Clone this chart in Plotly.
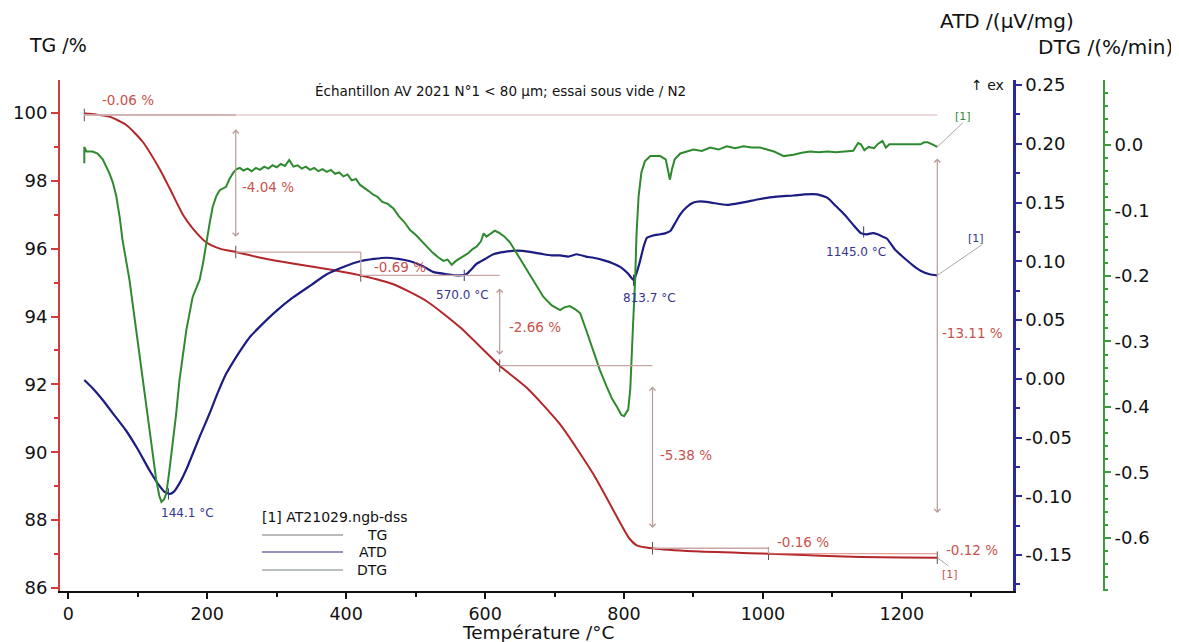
import plotly.graph_objects as go

# ---------------- data ----------------
tg_T = [23, 40, 59, 83, 107, 131, 146, 165, 179, 199, 218, 241, 275, 323, 372, 421, 468, 516, 564,
        621, 660, 708, 756, 795, 808, 819, 841, 900, 1008, 1093, 1141, 1200, 1251]
tg_v = [99.98, 99.95, 99.89, 99.65, 99.15, 98.36, 97.77, 97.0, 96.6, 96.18, 96.0, 95.90, 95.74, 95.56,
        95.40, 95.21, 94.95, 94.45, 93.68, 92.55, 91.9, 90.82, 89.35, 87.9, 87.45, 87.25, 87.17, 87.08,
        87.01, 86.94, 86.91, 86.90, 86.89]

atd_T = [23, 35, 49.5, 65, 83, 100, 117, 131, 138, 146, 152, 160, 170, 179, 190, 203, 215, 227, 240,
         251, 262, 275, 300, 323, 350, 372, 395, 420, 440, 458, 475, 492, 510, 525, 545, 564, 573, 580,
         588, 600, 612, 628, 646, 665, 684, 696, 708, 720, 732, 745, 756, 770, 785, 795, 805, 814, 818,
         823, 828, 833, 842, 852, 860, 867, 874, 881, 890, 900, 910, 925, 948, 970, 996, 1020, 1044,
         1060, 1078, 1093, 1105, 1117, 1130, 1141, 1150, 1158, 1165, 1172, 1179, 1190, 1203, 1215,
         1227, 1240, 1251]
atd_v = [-0.001, -0.008, -0.018, -0.030, -0.044, -0.060, -0.078, -0.091, -0.096, -0.098, -0.096,
         -0.089, -0.077, -0.064, -0.048, -0.030, -0.012, 0.004, 0.017, 0.027, 0.036, 0.044, 0.058,
         0.069, 0.080, 0.089, 0.095, 0.100, 0.102, 0.103, 0.102, 0.100, 0.096, 0.091, 0.089, 0.088,
         0.089, 0.093, 0.098, 0.102, 0.106, 0.108, 0.109, 0.108, 0.106, 0.105, 0.105, 0.104, 0.106,
         0.104, 0.103, 0.101, 0.098, 0.095, 0.090, 0.084, 0.090, 0.100, 0.112, 0.120, 0.122, 0.123,
         0.124, 0.126, 0.133, 0.140, 0.146, 0.150, 0.151, 0.150, 0.148, 0.150, 0.153, 0.155, 0.156,
         0.157, 0.157, 0.154, 0.147, 0.140, 0.131, 0.124, 0.123, 0.124, 0.123, 0.121, 0.119, 0.110,
         0.103, 0.097, 0.092, 0.089, 0.088]

dtg_T = [23, 23, 26, 35, 42, 49.5, 59, 64, 69, 74, 78, 83, 88, 97.6, 107, 117, 126.5, 131, 134, 138,
         141, 145, 150, 155, 160, 170, 179, 189, 194, 199, 204, 208, 213, 218, 227, 232, 237, 242, 247,
         252, 258, 264, 270, 276, 282, 288, 294, 300, 306, 312, 318, 324, 330, 336, 342, 348, 354, 360,
         366, 372, 378, 384, 390, 396, 402, 408, 414, 420, 426, 432, 439, 445, 452, 460, 468, 476, 484,
         492, 500, 508, 516, 524, 532, 540, 546, 552, 558, 564, 569, 576, 582, 588, 594, 598, 602, 608,
         614, 620, 628, 636, 648, 660, 672, 684, 696, 708, 714, 722, 730, 737, 746, 756, 765, 775, 783,
         790, 796, 800, 806, 809, 811, 813, 816, 818, 821, 825, 830, 838, 852, 860, 863, 866, 869, 873,
         881, 890, 900, 912, 924, 936, 948, 960, 972, 984, 996, 1006, 1016, 1030, 1044, 1056, 1068,
         1080, 1093, 1105, 1117, 1130, 1137, 1141, 1146, 1152, 1160, 1166, 1172, 1177, 1182, 1189,
         1200, 1215, 1227, 1232, 1237, 1244, 1251]
dtg_v = [-0.028, -0.003, -0.010, -0.010, -0.013, -0.022, -0.043, -0.057, -0.078, -0.111, -0.145,
         -0.176, -0.206, -0.282, -0.359, -0.435, -0.511, -0.536, -0.545, -0.541, -0.532, -0.501, -0.46,
         -0.413, -0.359, -0.282, -0.232, -0.206, -0.180, -0.145, -0.116, -0.094, -0.078, -0.069,
         -0.064, -0.052, -0.043, -0.037, -0.035, -0.039, -0.036, -0.040, -0.035, -0.038, -0.033,
         -0.036, -0.031, -0.034, -0.029, -0.032, -0.023, -0.033, -0.031, -0.036, -0.033, -0.038,
         -0.035, -0.040, -0.037, -0.041, -0.038, -0.044, -0.042, -0.048, -0.045, -0.054, -0.052,
         -0.061, -0.065, -0.070, -0.076, -0.079, -0.087, -0.090, -0.097, -0.109, -0.118, -0.130,
         -0.137, -0.146, -0.156, -0.164, -0.171, -0.177, -0.175, -0.183, -0.177, -0.173, -0.170,
         -0.165, -0.159, -0.155, -0.147, -0.135, -0.140, -0.135, -0.131, -0.134, -0.140, -0.149,
         -0.170, -0.191, -0.210, -0.232, -0.245, -0.252, -0.248, -0.246, -0.251, -0.257, -0.284,
         -0.317, -0.343, -0.369, -0.388, -0.400, -0.412, -0.414, -0.404, -0.373, -0.333, -0.274,
         -0.206, -0.136, -0.078, -0.042, -0.025, -0.017, -0.017, -0.022, -0.037, -0.053, -0.037,
         -0.022, -0.013, -0.010, -0.007, -0.009, -0.004, -0.007, -0.002, -0.005, -0.002, -0.004,
         -0.004, -0.007, -0.010, -0.017, -0.015, -0.012, -0.010, -0.011, -0.010, -0.011, -0.010,
         -0.009, 0.003, 0.001, -0.008, -0.003, -0.005, 0.002, 0.006, -0.004, 0.001, 0.001, 0.001,
         0.001, 0.001, 0.004, 0.004, 0.001, -0.003]

# mass-loss steps (TG)
step_T = [23, 241, 421, 621, 841, 1008, 1251]
step_level = [99.94, 95.90, 95.21, 92.55, 87.17, 87.01, 86.89]
step_labels = ["-0.06 %", "-4.04 %", "-0.69 %", "-2.66 %", "-5.38 %", "-0.16 %", "-0.12 %"]
total_label = "-13.11 %"

# ATD peaks
peak_T = [144.1, 570.0, 813.7, 1145.0]
peak_v = [-0.098, 0.088, 0.084, 0.125]

x_ticks = [0, 200, 400, 600, 800, 1000, 1200]
tg_ticks = [86, 88, 90, 92, 94, 96, 98, 100]
atd_ticks = [-0.15, -0.10, -0.05, 0.00, 0.05, 0.10, 0.15, 0.20, 0.25]
dtg_ticks = [0.0, -0.1, -0.2, -0.3, -0.4, -0.5, -0.6]

# ---------------- layout helpers ----------------
OFF = 8                     # page body margin of the browser
W, H = 1179 - OFF, 642 - OFF
ML, MR, MT, MB = 60 - OFF, 60, 80 - OFF, 51
PW = W - ML - MR
PH = H - MT - MB


def px(x):
    """page pixel x -> paper fraction"""
    return (x - OFF - ML) / PW


def py(y):
    """page pixel y -> paper fraction"""
    return (H - MB - (y - OFF)) / PH


FONT = "DejaVu Sans"
TG_COLOR = "#b3262a"
ATD_COLOR = "#1c1c82"
DTG_COLOR = "#2f8a2f"
ANN_RED = "#c8524e"
ANN_BLUE = "#35358a"
STEP_COL = "#c9a6a6"

fig = go.Figure()

fig.add_trace(go.Scatter(x=dtg_T, y=dtg_v, yaxis="y3", mode="lines",
                         line=dict(color=DTG_COLOR, width=2), showlegend=False))
fig.add_trace(go.Scatter(x=atd_T, y=atd_v, yaxis="y2", mode="lines",
                         line=dict(color=ATD_COLOR, width=2.2, shape="spline", smoothing=0.5),
                         showlegend=False))
fig.add_trace(go.Scatter(x=tg_T, y=tg_v, yaxis="y", mode="lines",
                         line=dict(color=TG_COLOR, width=2, shape="spline", smoothing=0.6),
                         showlegend=False))

# step markers on TG curve
fig.add_trace(go.Scatter(x=step_T, y=step_level, yaxis="y", mode="markers",
                         marker=dict(symbol="line-ns", size=9, line=dict(color="#6a4a4a", width=1)),
                         showlegend=False))
# peak markers on ATD
fig.add_trace(go.Scatter(x=peak_T, y=peak_v, yaxis="y2", mode="markers",
                         marker=dict(symbol="line-ns", size=8, line=dict(color=ANN_BLUE, width=1)),
                         showlegend=False))

shapes = []
annotations = []

# top reference line (light) across whole range, darker first segment
shapes.append(dict(type="line", xref="x", yref="y", x0=step_T[0], x1=step_T[-1],
                   y0=step_level[0], y1=step_level[0], line=dict(color="#e6cccc", width=1.5)))
shapes.append(dict(type="line", xref="x", yref="y", x0=step_T[0], x1=step_T[1],
                   y0=step_level[0], y1=step_level[0], line=dict(color=STEP_COL, width=1.5)))
# horizontal level lines
for k in range(1, len(step_T) - 1):
    col = STEP_COL if k < len(step_T) - 2 else "rgba(220,120,120,0.7)"
    shapes.append(dict(type="line", xref="x", yref="y", x0=step_T[k], x1=step_T[k + 1],
                       y0=step_level[k], y1=step_level[k], line=dict(color=col, width=1.3)))
# small steps: plain vertical lines
for k in (2, 5):
    shapes.append(dict(type="line", xref="x", yref="y", x0=step_T[k], x1=step_T[k],
                       y0=step_level[k - 1], y1=step_level[k], line=dict(color=STEP_COL, width=1.3)))


def darrow(x, y0, y1):
    annotations.append(dict(x=x, y=y1, ax=x, ay=y0, xref="x", yref="y", axref="x", ayref="y",
                            text="", showarrow=True, arrowhead=4, startarrowhead=4,
                            arrowside="end+start", arrowsize=1, arrowwidth=1.2,
                            arrowcolor="#b99a9a"))


darrow(step_T[1], step_level[0] - 0.38, step_level[1] + 0.45)
darrow(step_T[3], step_level[2] - 0.34, step_level[3] + 0.32)
darrow(step_T[4], step_level[3] - 0.57, step_level[4] + 0.60)
darrow(step_T[6], 98.70, 88.21)

# step labels
lab_pos = [(45, 100.38), (247, 97.82), (437, 95.46), (632, 93.69), (849, 89.92), (1018, 87.36),
           (1260, 87.12)]
for (lx, ly), txt in zip(lab_pos, step_labels):
    annotations.append(dict(x=lx, y=ly, xref="x", yref="y", text=txt, showarrow=False,
                            xanchor="left", yanchor="middle",
                            font=dict(family=FONT, size=13.5, color=ANN_RED)))
annotations.append(dict(x=1255, y=93.52, xref="x", yref="y", text=total_label, showarrow=False,
                        xanchor="left", yanchor="middle",
                        font=dict(family=FONT, size=13.5, color=ANN_RED)))

# peak labels
peak_shift = [(19, -19), (-2, -20), (16, -18), (-8, -20)]
for t, v, (dx, dy) in zip(peak_T, peak_v, peak_shift):
    annotations.append(dict(x=t, y=v, xref="x", yref="y2", text=f"{t:.1f} °C", showarrow=False,
                            xshift=dx, yshift=dy, font=dict(family=FONT, size=12, color=ANN_BLUE)))

# [1] end labels with connectors
shapes.append(dict(type="line", xref="x", yref="y3", x0=dtg_T[-1], y0=dtg_v[-1], x1=1288, y1=0.034,
                   line=dict(color="#a8a8a8", width=1)))
shapes.append(dict(type="line", xref="x", yref="y2", x0=atd_T[-1], y0=atd_v[-1], x1=1315, y1=0.114,
                   line=dict(color="#a8a8a8", width=1)))
shapes.append(dict(type="line", xref="x", yref="y", x0=tg_T[-1], y0=tg_v[-1], x1=1267, y1=86.65,
                   line=dict(color="#a8a8a8", width=1)))
annotations.append(dict(x=1288, y=0.034, xref="x", yref="y3", text="[1]", showarrow=False,
                        yanchor="bottom", xanchor="center", yshift=-2,
                        font=dict(family=FONT, size=11, color=DTG_COLOR)))
annotations.append(dict(x=1315, y=0.114, xref="x", yref="y2", text="[1]", showarrow=False,
                        yanchor="bottom", xanchor="center", xshift=-6, yshift=-2,
                        font=dict(family=FONT, size=11, color=ANN_BLUE)))
annotations.append(dict(x=1267, y=86.65, xref="x", yref="y", text="[1]", showarrow=False,
                        yanchor="top", xanchor="center", xshift=2,
                        font=dict(family=FONT, size=11, color=ANN_RED)))


# titles / axis names
def ptext(x, y, txt, size, xanchor="center", color="#111111"):
    annotations.append(dict(x=px(x), y=py(y), xref="paper", yref="paper", text=txt, showarrow=False,
                            xanchor=xanchor, yanchor="middle",
                            font=dict(family=FONT, size=size, color=color)))


ptext(500, 91, "Échantillon AV 2021 N°1 < 80 µm; essai sous vide / N2", 13.5)
ptext(27, 45, "TG /%", 19, "left")
ptext(938, 21, "ATD /(µV/mg)", 20, "left")
ptext(1175, 47, "DTG /(%/min)", 20, "right")
ptext(1006, 85, "↑ ex", 14, "right")
ptext(538, 632, "Température /°C", 18.5)

# legend block
ptext(260, 517, "[1] AT21029.ngb-dss", 14, "left")
for name, yy, col in (("TG", 535, "#a3a3a3"), ("ATD", 552, "#7070a8"), ("DTG", 570, "#a3aca3")):
    ptext(389, yy, name, 14, "right")
    shapes.append(dict(type="line", xref="paper", yref="paper", x0=px(262), x1=px(343),
                       y0=py(yy), y1=py(yy), line=dict(color=col, width=1.5)))

tick_font = dict(family=FONT, size=18, color="#111111")

fig.update_layout(
    width=W, height=H,
    margin=dict(l=ML, r=MR, t=MT, b=MB, autoexpand=False),
    paper_bgcolor="white", plot_bgcolor="white",
    showlegend=False,
    shapes=shapes, annotations=annotations,
    xaxis=dict(domain=[0, px(1013)], range=[-12, 1360], showline=True, linecolor="#111111",
               linewidth=2, ticks="outside", ticklen=6, tickwidth=1.5, tickcolor="#111111",
               tickmode="array", tickvals=x_ticks, ticktext=[str(v) for v in x_ticks],
               minor=dict(tickmode="linear", tick0=0, dtick=100, ticks="outside", ticklen=4,
                          tickcolor="#111111"),
               showgrid=False, zeroline=False, tickfont=dict(family=FONT, size=17.5, color="#111111"),
               anchor="y", automargin=False),
    yaxis=dict(range=[85.91, 100.97], showline=True, linecolor="#d23c3c", linewidth=2,
               ticks="outside", ticklen=7, tickcolor="#d23c3c", tickwidth=1.5,
               tickmode="array", tickvals=tg_ticks, ticktext=[str(v) for v in tg_ticks],
               minor=dict(tickmode="linear", tick0=0, dtick=1, ticks="outside", ticklen=4,
                          tickcolor="#d23c3c"),
               showgrid=False, zeroline=False, tickfont=tick_font, automargin=False),
    yaxis2=dict(overlaying="y", side="right", anchor="x", range=[-0.1806, 0.2543],
                showline=True, linecolor="#2a2aa0", linewidth=2.5, ticks="outside", ticklen=6,
                tickcolor="#2a2aa0", tickwidth=1.5, tickmode="array", tickvals=atd_ticks,
                ticktext=[f"{v:.2f}" for v in atd_ticks],
                minor=dict(tickmode="linear", tick0=0, dtick=0.025, ticks="outside", ticklen=4,
                           tickcolor="#2a2aa0"),
                showgrid=False, zeroline=False, tickfont=tick_font, automargin=False),
    yaxis3=dict(overlaying="y", side="right", anchor="free", position=px(1104),
                range=[-0.681, 0.0992], showline=True, linecolor="#3c9c3c", linewidth=2,
                ticks="outside", ticklen=6, tickcolor="#3c9c3c", tickwidth=1.5,
                tickmode="array", tickvals=dtg_ticks,
                ticktext=[f"{v:.1f}" if v != 0 else "0.0" for v in dtg_ticks],
                minor=dict(tickmode="linear", tick0=0, dtick=0.02, ticks="outside", ticklen=3,
                           tickcolor="#3c9c3c"),
                showgrid=False, zeroline=False, tickfont=tick_font, automargin=False),
)

fig.write_html("out.html")
